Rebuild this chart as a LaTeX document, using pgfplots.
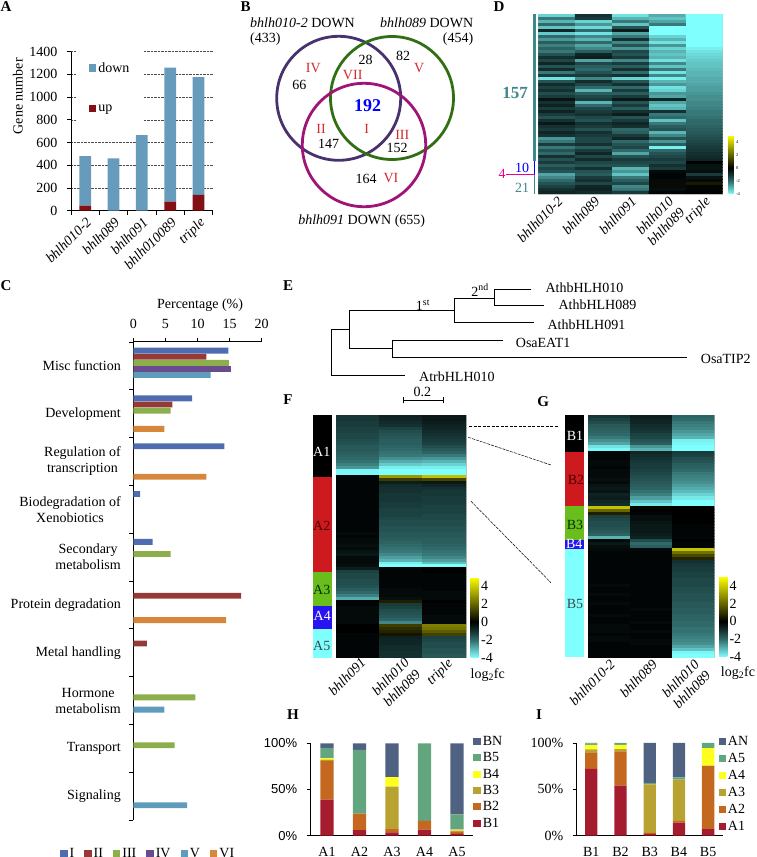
\documentclass[border=0pt]{standalone}
\usepackage{fontspec}
\usepackage{pgfplots}
\pgfplotsset{compat=1.18}
\setmainfont{Liberation Serif}
\newfontfamily\arialf{Liberation Sans}
\newcommand\fs{\fontsize{14}{16}\selectfont}
\definecolor{cI}{RGB}{79,108,176}
\definecolor{cII}{RGB}{150,58,56}
\definecolor{cIII}{RGB}{140,174,76}
\definecolor{cIV}{RGB}{106,76,142}
\definecolor{cV}{RGB}{95,156,187}
\definecolor{cVI}{RGB}{215,135,60}
\definecolor{down}{RGB}{102,155,187}
\definecolor{up}{RGB}{131,16,20}
\definecolor{h1}{RGB}{165,28,46}
\definecolor{h2}{RGB}{196,104,32}
\definecolor{h3}{RGB}{184,162,50}
\definecolor{h4}{RGB}{255,255,30}
\definecolor{h5}{RGB}{98,165,127}
\definecolor{h6}{RGB}{80,98,130}
\definecolor{vpur}{RGB}{72,50,110}
\definecolor{vgrn}{RGB}{50,110,20}
\definecolor{vmag}{RGB}{160,20,120}
\definecolor{tealt}{RGB}{62,135,138}
\definecolor{vred}{RGB}{210,40,50}
\pgfplotsset{
  colormap={hm}{rgb255(0cm)=(128,255,255); rgb255(1cm)=(90,180,180); rgb255(2cm)=(48,105,105);
    rgb255(3cm)=(20,48,48); rgb255(4cm)=(0,0,0); rgb255(9cm)=(255,255,0)},
  panel/.style={scale only axis, anchor=south west,
    /pgf/number format/assume math mode=true,
    /pgf/number format/1000 sep={},
    tick label style={font=\fs}, label style={font=\fs},
    axis line style={-, line width=1pt}, tick style={black, line width=.8pt},
    major tick length=4pt, minor tick length=4pt, tick align=outside,
    scaled ticks=false},
  sq/.style={legend image code/.code={\fill[##1] (0pt,-3.6pt) rectangle (7.4pt,3.6pt);}},
  heat/.style={panel, enlargelimits=false, colormap name=hm,
    point meta min=-4, point meta max=5,
    axis line style={draw=black!25, line width=.5pt},
    ymajorticks=false, xtick=data, major tick length=0pt,
    xticklabel style={rotate=45, anchor=north east, align=center, font=\fs\itshape, inner sep=1pt}},
  cbar/.style={colorbar, colorbar style={at={(#1,0)}, anchor=south west,
    width=8.3pt, height=80.4pt, scale only axis, ytick={-4,-2,0,2,4},
    /pgf/number format/assume math mode=true,
    axis line style={draw=none}, major tick length=0pt,
    yticklabel style={font=\fs, inner sep=1pt, xshift=1pt}}},
}
\begin{document}
\begin{tikzpicture}[x=1pt,y=1pt]
\path[use as bounding box] (0pt,0pt) rectangle (756pt,857pt);

% A
\begin{axis}[panel, at={(71pt,646.3pt)}, width=141.7pt, height=159pt,
  axis x line*=bottom, axis y line*=left, ybar stacked, bar width=11.7pt,
  xmin=-0.5, xmax=4.5, ymin=0, ymax=1400, ytick={0,200,...,1400},
  yticklabel style={xshift=-6pt},
  xtick={0,1,2,3,4}, minor xtick={-0.5,0.5,1.5,2.5,3.5,4.5},
  major x tick style={draw=none}, minor x tick style={black},
  xticklabels={bhlh010-2,bhlh089,bhlh091,bhlh010089,triple},
  xticklabel style={rotate=45, anchor=north east, font=\fs\itshape, inner sep=1pt},
  ymajorgrids, grid style={black!70, densely dotted, line width=.5pt},
  ylabel={Gene number}, ylabel style={at={(axis description cs:-0.375,0.72)}, anchor=center},
  sq, reverse legend,
  legend style={at={(0.042,1.01)}, anchor=north west, draw=none, fill=white, font=\fs,
    row sep=27pt, inner xsep=11.7pt, inner ysep=10pt},
  legend cell align=left]
\addplot[fill=up, draw=none] coordinates {(0,45)(1,0)(2,0)(3,80)(4,140)};
\addplot[fill=down, draw=none] coordinates {(0,435)(1,460)(2,665)(3,1180)(4,1035)};
\legend{up,down}
\end{axis}

% C
\begin{axis}[panel, at={(133.3pt,37pt)}, width=128.4pt, height=478pt,
  axis x line*=top, axis y line*=left, xbar, bar width=5.9pt,
  xmin=0, xmax=20, xtick={0,5,10,15,20}, ymin=-0.5, ymax=9.5,
  xticklabel style={yshift=6pt},
  ytick={0,...,9}, minor ytick={-0.5,0.5,...,9.5},
  major y tick style={draw=none}, minor y tick style={black},
  yticklabels={Signaling,Transport,{Hormone\\metabolism},Metal handling,Protein degradation,
    {Secondary\\metabolism},{Biodegradation of\\Xenobiotics},{Regulation of\\transcription},Development,Misc function},
  yticklabel style={align=center, anchor=east, xshift=-5pt},
  xlabel={Percentage (\%)}, xlabel style={at={(axis description cs:0.52,1.077)}, anchor=center, font=\fs},
  sq, legend columns=6,
  legend style={at={(-0.571,-0.054)}, anchor=north west, draw=none, fill=none, font=\fs,
    inner sep=0pt, /tikz/every even column/.append style={column sep=8pt}}]
\addplot[fill=cI, draw=none, bar shift=15.25pt] coordinates {(14.8,9)(9.15,8)(14.2,7)(1.05,6)(3,5)};
\addplot[fill=cII, draw=none, bar shift=9.15pt] coordinates {(11.4,9)(6.1,8)(16.8,4)(2.1,3)};
\addplot[fill=cIII, draw=none, bar shift=3.05pt] coordinates {(14.9,9)(5.8,8)(5.8,5)(9.65,2)(6.45,1)};
\addplot[fill=cIV, draw=none, bar shift=-3.05pt] coordinates {(15.2,9)};
\addplot[fill=cV, draw=none, bar shift=-9.15pt] coordinates {(12.05,9)(4.85,2)(8.4,0)};
\addplot[fill=cVI, draw=none, bar shift=-15.25pt] coordinates {(4.85,8)(11.4,7)(14.45,4)};
\legend{I,II,III,IV,V,VI}
\end{axis}

% H
\begin{axis}[panel, at={(310.7pt,21.3pt)}, width=162.5pt, height=92.4pt,
  axis x line*=bottom, axis y line*=left, ybar stacked, bar width=13.3pt,
  xmin=-0.5, xmax=4.5, ymin=0, ymax=100, ytick={0,50,100},
  yticklabels={0\%,50\%,100\%}, yticklabel style={font=\fontsize{13}{14}\selectfont\arialf, xshift=-6pt},
  xtick={0,1,2,3,4}, xticklabels={A1,A2,A3,A4,A5}, major x tick style={draw=none},
  xticklabel style={yshift=-4pt},
  sq, reverse legend, legend cell align=left,
  legend style={at={(1.0,1.10)}, anchor=north west, draw=none, fill=none, font=\fs,
    inner sep=0pt, row sep=1.6pt}]
\addplot[fill=h1, draw=none] coordinates {(0,39)(1,6)(2,3.5)(3,6.5)(4,2)};
\addplot[fill=h2, draw=none] coordinates {(0,42)(1,18)(2,3.5)(3,9.5)(4,2.7)};
\addplot[fill=h3, draw=none] coordinates {(0,1.3)(1,0)(2,46)(3,0)(4,0.8)};
\addplot[fill=h4, draw=none] coordinates {(0,1.7)(1,0)(2,10.5)(3,0)(4,1)};
\addplot[fill=h5, draw=none] coordinates {(0,11)(1,69)(2,0)(3,84)(4,16.5)};
\addplot[fill=h6, draw=none] coordinates {(0,5)(1,7)(2,36.5)(3,0)(4,77)};
\legend{B1,B2,B3,B4,B5,BN}
\end{axis}

% I
\begin{axis}[panel, at={(576.7pt,21.3pt)}, width=146pt, height=92.7pt,
  axis x line*=bottom, axis y line*=left, ybar stacked, bar width=12.3pt,
  xmin=-0.5, xmax=4.5, ymin=0, ymax=100, ytick={0,50,100},
  yticklabels={0\%,50\%,100\%}, yticklabel style={xshift=-6pt},
  xtick={0,1,2,3,4}, xticklabels={B1,B2,B3,B4,B5}, major x tick style={draw=none},
  xticklabel style={yshift=-4pt},
  sq, reverse legend, legend cell align=left,
  legend style={at={(0.97,1.10)}, anchor=north west, draw=none, fill=none, font=\fs,
    inner sep=0pt, row sep=2.3pt}]
\addplot[fill=h1, draw=none] coordinates {(0,72)(1,54)(2,2)(3,14)(4,7)};
\addplot[fill=h2, draw=none] coordinates {(0,17)(1,37)(2,1)(3,2)(4,68)};
\addplot[fill=h3, draw=none] coordinates {(0,4)(1,2.5)(2,52.5)(3,44.5)(4,0.5)};
\addplot[fill=h4, draw=none] coordinates {(0,5)(1,4.5)(2,0)(3,0)(4,19)};
\addplot[fill=h5, draw=none] coordinates {(0,1.5)(1,2)(2,1.5)(3,2.5)(4,5.5)};
\addplot[fill=h6, draw=none] coordinates {(0,0.5)(1,0)(2,43)(3,37)(4,0)};
\legend{A1,A2,A3,A4,A5,AN}
\end{axis}

% D heat map, one value per cell, row by row
\begin{axis}[heat, at={(538.3pt,663pt)}, width=184.4pt, height=180pt,
  xmin=-0.5, xmax=4.5, ymin=-0.5, ymax=59.5, y dir=reverse,
  xticklabels={bhlh010-2,bhlh089,bhlh091,{bhlh010\\bhlh089},triple},
  cbar=1.0324, colorbar style={width=5.3pt, height=59pt,
    yticklabel style={font=\fontsize{4.5}{5}\selectfont, xshift=0pt}}]
\addplot[matrix plot*, mesh/cols=5, point meta=explicit] table[row sep=\\, header=false,
  x expr={mod(\coordindex,5)}, y expr={floor((\coordindex+0.5)/5)}, meta index=0]{
-3.4\\-1.0\\-3.6\\-2.9\\-4\\
-2.2\\-1.2\\-3.0\\-3.2\\-4\\
-3.0\\-3.4\\-2.2\\-2.8\\-4\\
-2.0\\-2.6\\-3.2\\-2.2\\-4\\
-3.2\\-3.5\\-1.6\\-4\\-4\\
-0.8\\-2.0\\-0.6\\-4\\-4\\
-3.3\\-3.6\\-2.8\\-4\\-4\\
-2.0\\-2.4\\-2.2\\-3.4\\-4\\
-2.6\\-3.0\\-1.0\\-3.0\\-4\\
-1.8\\-2.0\\-2.4\\-3.6\\-4\\
-2.3\\-2.8\\-1.6\\-2.6\\-4\\
-1.9\\-2.4\\-2.6\\-3.4\\-3.8\\
-2.2\\-1.8\\-1.4\\-3.0\\-3.6\\
-1.6\\-0.8\\-1.6\\-3.2\\-3.5\\
-1.0\\-0.6\\-1.2\\-3.0\\-3.4\\
-1.4\\-2.8\\-2.4\\-3.6\\-3.3\\
-0.8\\-1.4\\-1.2\\-2.4\\-3.2\\
-1.6\\-1.8\\-1.8\\-3.2\\-3.2\\
-0.9\\-2.0\\-1.0\\-2.2\\-3.1\\
-2.2\\-1.6\\-2.0\\-3.6\\-3.0\\
-1.2\\-1.2\\-1.0\\-2.4\\-3.0\\
-3.6\\-2.4\\-3.4\\-3.8\\-2.9\\
-1.6\\-0.9\\-1.6\\-3.0\\-2.9\\
-0.9\\-1.4\\-1.0\\-2.6\\-2.8\\
-1.3\\-2.0\\-2.0\\-3.6\\-2.7\\
-1.0\\-3.0\\-1.2\\-3.4\\-2.7\\
-1.5\\-1.8\\-1.8\\-2.6\\-2.6\\
-1.2\\-1.4\\-1.2\\-2.8\\-2.5\\
-0.4\\-1.2\\-0.5\\-0.8\\-2.5\\
-1.0\\-3.0\\-1.6\\-2.8\\-2.4\\
-0.7\\-2.0\\-1.2\\-3.2\\-2.4\\
-1.2\\-1.4\\-1.8\\-3.0\\-2.3\\
-0.7\\-1.2\\-1.0\\-1.0\\-2.2\\
-1.2\\-1.0\\-0.6\\-2.2\\-2.2\\
-1.6\\-1.4\\-1.6\\-2.0\\-2.1\\
-1.0\\-1.6\\-1.2\\-3.2\\-2.0\\
-0.5\\-1.0\\-0.8\\-2.2\\-2.0\\
-1.0\\-1.2\\-1.0\\-1.8\\-1.9\\
-1.2\\-1.6\\-2.0\\-1.6\\-1.8\\
-0.8\\-1.0\\-1.8\\-3.0\\-1.7\\
-1.0\\-1.2\\-1.2\\-2.4\\-1.6\\
-2.6\\-1.4\\-0.8\\-1.6\\-1.5\\
-2.2\\-1.4\\-2.0\\-2.6\\-1.4\\
-1.2\\-1.0\\-1.6\\-1.8\\-1.3\\
-2.2\\-1.8\\-1.4\\-3.8\\-1.2\\
-1.6\\-1.2\\-2.0\\-2.0\\-1.1\\
-2.0\\-0.8\\-2.8\\-1.6\\-1.0\\
-1.0\\-1.4\\-1.6\\-1.4\\-0.9\\
-1.6\\-0.9\\-1.2\\-1.2\\-0.8\\
-1.2\\-1.4\\-1.4\\-1.4\\0\\
-1.8\\-1.6\\-1.6\\-1.0\\-0.4\\
-1.4\\-1.0\\-3.0\\-1.2\\-0.4\\
-1.6\\-1.6\\-2.6\\-0.2\\-0.3\\
-2.8\\-1.8\\-3.2\\-0.1\\-1.2\\
-2.4\\-1.2\\-2.2\\-0.1\\-0.4\\
-2.0\\-1.0\\-1.8\\-0.2\\-0.2\\
-1.6\\-1.4\\-1.4\\0.2\\0.5\\
-1.3\\-0.8\\-2.4\\-0.2\\-0.1\\
-1.0\\-0.7\\-2.2\\-0.3\\-0.1\\
-0.8\\-0.9\\-1.2\\-0.1\\0\\
};
\end{axis}

% F heat map
\begin{axis}[heat, at={(336pt,199.5pt)}, width=130pt, height=242.5pt,
  xmin=-0.5, xmax=2.5, ymin=-0.5, ymax=80.5, y dir=reverse,
  xticklabels={bhlh091,{bhlh010\\bhlh089},triple}, cbar=1.036,
  xticklabel style={xshift=3pt}]
\addplot[matrix plot*, mesh/cols=3, point meta=explicit] table[row sep=\\, header=false,
  x expr={mod(\coordindex,3)}, y expr={floor((\coordindex+0.5)/3)}, meta index=0]{
-1.1\\-0.7\\-0.5\\
-1.1\\-0.8\\-0.5\\
-1.2\\-0.9\\-0.6\\
-1.2\\-1.0\\-0.7\\
-1.3\\-1.3\\-0.8\\
-1.3\\-1.5\\-0.9\\
-1.4\\-1.6\\-1.0\\
-1.4\\-1.7\\-1.1\\
-1.5\\-1.8\\-1.2\\
-1.6\\-1.8\\-1.3\\
-1.7\\-1.9\\-1.5\\
-1.7\\-2.0\\-1.7\\
-1.8\\-2.1\\-1.9\\
-1.9\\-2.2\\-2.2\\
-2.0\\-2.5\\-2.6\\
-2.1\\-2.9\\-3.0\\
-2.3\\-3.3\\-3.4\\
-2.6\\-3.8\\-3.8\\
-3.9\\-4\\-4\\
-3.9\\-4\\-4\\
-0.1\\3.0\\3.8\\
-0.1\\1.2\\1.4\\
-0.1\\-0.6\\-0.5\\
-0.1\\-0.9\\-0.8\\
-0.1\\-1.0\\-1.0\\
-0.1\\-1.0\\-1.1\\
-0.1\\-1.1\\-1.1\\
-0.1\\-1.1\\-1.2\\
-0.1\\-1.1\\-1.2\\
-0.1\\-1.2\\-1.2\\
-0.1\\-1.2\\-1.3\\
-0.1\\-1.3\\-1.3\\
-0.1\\-1.3\\-1.3\\
-0.1\\-1.3\\-1.4\\
-0.1\\-1.4\\-1.4\\
-0.1\\-1.5\\-1.5\\
-0.1\\-1.5\\-1.5\\
-0.1\\-1.6\\-1.6\\
-0.1\\-1.6\\-1.6\\
-0.2\\-1.7\\-1.7\\
-0.1\\-1.7\\-1.7\\
-0.2\\-1.8\\-1.8\\
-0.2\\-1.9\\-1.8\\
-0.3\\-2.0\\-1.9\\
-0.2\\-2.1\\-2.0\\
-0.4\\-2.2\\-2.1\\
-0.5\\-2.4\\-2.2\\
-0.2\\-2.7\\-2.4\\
-0.2\\-3.0\\-2.7\\
-0.2\\-3.8\\-3.2\\
-0.3\\-4\\-4\\
-0.6\\-0.1\\0\\
-1.3\\-0.1\\0\\
-1.4\\-0.1\\-0.1\\
-1.4\\-0.1\\-0.1\\
-1.5\\-0.1\\-0.1\\
-1.5\\-0.1\\-0.1\\
-1.6\\-0.1\\-0.1\\
-1.8\\-0.2\\-0.1\\
-2.0\\-0.2\\-0.2\\
-2.3\\-0.2\\-0.2\\
-2.9\\-0.3\\-0.2\\
-0.1\\0.6\\0\\
-0.1\\-1.2\\-0.1\\
-0.2\\-1.3\\-0.1\\
-0.2\\-1.5\\-0.1\\
-0.2\\-1.6\\-0.1\\
-0.2\\-1.7\\-0.2\\
-0.2\\-1.9\\-0.2\\
-0.2\\-2.4\\-0.2\\
0\\1.2\\2.5\\
0\\0.9\\2.3\\
0\\0.7\\1.8\\
-0.1\\0.4\\1.3\\
-0.1\\-0.7\\-1.3\\
-0.1\\-0.8\\-1.4\\
-0.1\\-0.8\\-1.5\\
-0.1\\-0.9\\-1.5\\
-0.1\\-0.9\\-1.6\\
-0.1\\-1.0\\-1.6\\
-0.1\\-1.0\\-1.7\\
};
\end{axis}

% G heat map
\begin{axis}[heat, at={(588pt,200pt)}, width=126.3pt, height=242pt,
  xmin=-0.5, xmax=2.5, ymin=-0.5, ymax=79.5, y dir=reverse,
  xticklabels={bhlh010-2,bhlh089,{bhlh010\\bhlh089}}, cbar=1.0373]
\addplot[matrix plot*, mesh/cols=3, point meta=explicit] table[row sep=\\, header=false,
  x expr={mod(\coordindex,3)}, y expr={floor((\coordindex+0.5)/3)}, meta index=0]{
-1.1\\-0.6\\-1.9\\
-1.3\\-0.7\\-2.0\\
-1.5\\-0.8\\-2.2\\
-1.7\\-0.9\\-2.3\\
-1.8\\-1.0\\-2.4\\
-1.9\\-1.1\\-2.6\\
-2.0\\-1.3\\-2.8\\
-2.2\\-1.4\\-3.0\\
-2.5\\-1.6\\-3.8\\
-2.8\\-1.8\\-3.9\\
-3.6\\-2.6\\-4\\
-3.9\\-3.0\\-4\\
-0.1\\-0.8\\-1.2\\
-0.1\\-0.9\\-1.3\\
-0.1\\-1.0\\-1.5\\
-0.2\\-1.1\\-1.6\\
-0.2\\-1.2\\-1.8\\
-0.1\\-1.2\\-1.9\\
-0.2\\-1.3\\-2.0\\
-0.2\\-1.4\\-2.2\\
-0.2\\-1.5\\-2.3\\
-0.3\\-1.6\\-2.4\\
-0.2\\-1.7\\-2.5\\
-0.4\\-1.8\\-2.7\\
-0.5\\-1.9\\-2.9\\
-0.4\\-2.1\\-3.1\\
-0.7\\-2.3\\-3.4\\
-0.6\\-2.7\\-3.7\\
-0.8\\-3.2\\-4\\
-0.9\\-3.7\\-4\\
3.8\\0.1\\0\\
2.0\\0\\0\\
0.6\\-0.1\\0\\
-1.3\\-0.3\\0\\
-1.4\\-0.3\\0\\
-1.5\\-0.4\\0\\
-1.5\\-0.5\\-0.1\\
-1.6\\-0.5\\-0.1\\
-1.7\\-0.5\\-0.1\\
-1.9\\-0.6\\-0.1\\
-3.0\\-0.7\\-0.1\\
-0.2\\-1.5\\0\\
-0.5\\-2.0\\-0.1\\
-0.3\\-1.8\\-0.1\\
-0.2\\-0.2\\3.8\\
-0.1\\-0.1\\2.2\\
-0.1\\-0.1\\1.4\\
-0.1\\-0.1\\0.7\\
-0.1\\-0.1\\-1.0\\
-0.1\\-0.1\\-1.1\\
-0.1\\-0.1\\-1.2\\
-0.1\\-0.1\\-1.2\\
-0.1\\-0.1\\-1.3\\
-0.1\\-0.1\\-1.3\\
-0.1\\-0.1\\-1.4\\
-0.1\\-0.1\\-1.4\\
-0.2\\-0.1\\-1.4\\
-0.1\\-0.1\\-1.5\\
-0.1\\-0.1\\-1.5\\
-0.2\\-0.1\\-1.6\\
-0.1\\-0.1\\-1.6\\
-0.1\\-0.1\\-1.6\\
-0.2\\-0.1\\-1.7\\
-0.1\\-0.1\\-1.7\\
-0.1\\-0.2\\-1.8\\
-0.1\\-0.1\\-1.8\\
-0.2\\-0.1\\-1.9\\
-0.1\\-0.1\\-1.9\\
-0.1\\-0.2\\-2.0\\
-0.2\\-0.1\\-2.0\\
-0.2\\-0.1\\-2.1\\
-0.2\\-0.2\\-2.1\\
-0.1\\-0.1\\-2.2\\
-0.2\\-0.1\\-2.3\\
-0.2\\-0.2\\-2.4\\
-0.1\\-0.2\\-2.5\\
-0.1\\-0.1\\-2.8\\
-0.1\\-0.1\\-3.2\\
-0.1\\-0.1\\-3.9\\
-0.1\\-0.1\\-4\\
};
\end{axis}

% everything else, in reference pixel coordinates
\begin{axis}[scale only axis, anchor=south west, at={(0pt,0pt)}, width=756pt, height=857pt,
  xmin=0, xmax=756, ymin=0, ymax=857, y dir=reverse, hide axis, clip=false]
% venn
\addplot[only marks, mark=o, mark size=62pt, mark options={line width=2.8pt, draw=vpur}] coordinates {(338.7,98.3)};
\addplot[only marks, mark=o, mark size=61.5pt, mark options={line width=2.8pt, draw=vgrn}] coordinates {(392,98)};
\addplot[only marks, mark=o, mark size=61.7pt, mark options={line width=2.8pt, draw=vmag}] coordinates {(364,145)};
% tree
\addplot[black, line width=.7pt] coordinates {(349.3,329.3)(331.3,329.3)(331.3,375)(405,375)};
\addplot[black, line width=.7pt] coordinates {(454.3,310.7)(349.3,310.7)(349.3,348.7)(392,348.7)};
\addplot[black, line width=.7pt] coordinates {(494,298)(454.3,298)(454.3,322.7)(534.3,322.7)};
\addplot[black, line width=.7pt] coordinates {(531.3,289)(494,289)(494,305.3)(544,305.3)};
\addplot[black, line width=.7pt] coordinates {(502.7,340.7)(392,340.7)(392,357.3)(687.3,357.3)};
\addplot[black, line width=.8pt] coordinates {(403.3,397)(403.3,403)(403.3,400)(443.3,400)(443.3,397)(443.3,403)};
% links between F and G
\addplot[black, line width=.5pt, dash pattern=on 3pt off 1.5pt] coordinates {(469.3,426)(559.3,426)};
\addplot[black, line width=.5pt, dash pattern=on 3pt off 1pt] coordinates {(468.3,437.3)(551,465)};
\addplot[black, line width=.5pt, dash pattern=on 3pt off 1pt] coordinates {(471,501.3)(551,582.7)};
% side bars
\addplot[fill=black, draw=none] coordinates {(312.7,415)(332.3,415)(332.3,476.7)(312.7,476.7)} --cycle;
\addplot[fill={rgb,255:red,204;green,26;blue,30}, draw=none] coordinates {(312.7,476.7)(332.3,476.7)(332.3,571.7)(312.7,571.7)} --cycle;
\addplot[fill={rgb,255:red,105;green,190;blue,30}, draw=none] coordinates {(312.7,571.7)(332.3,571.7)(332.3,605.7)(312.7,605.7)} --cycle;
\addplot[fill={rgb,255:red,40;green,20;blue,240}, draw=none] coordinates {(312.7,605.7)(332.3,605.7)(332.3,628.7)(312.7,628.7)} --cycle;
\addplot[fill={rgb,255:red,128;green,255;blue,255}, draw=none] coordinates {(312.7,628.7)(332.3,628.7)(332.3,657.7)(312.7,657.7)} --cycle;
\addplot[fill=black, draw=none] coordinates {(565.3,415)(584,415)(584,452.3)(565.3,452.3)} --cycle;
\addplot[fill={rgb,255:red,204;green,26;blue,30}, draw=none] coordinates {(565.3,452.3)(584,452.3)(584,506)(565.3,506)} --cycle;
\addplot[fill={rgb,255:red,105;green,190;blue,30}, draw=none] coordinates {(565.3,506)(584,506)(584,540)(565.3,540)} --cycle;
\addplot[fill={rgb,255:red,40;green,20;blue,240}, draw=none] coordinates {(565.3,540)(584,540)(584,549.3)(565.3,549.3)} --cycle;
\addplot[fill={rgb,255:red,128;green,255;blue,255}, draw=none] coordinates {(565.3,549.3)(584,549.3)(584,657.3)(565.3,657.3)} --cycle;
% D side lines
\addplot[tealt, line width=2.4pt] coordinates {(534.3,14)(534.3,160.7)};
\addplot[blue, line width=1pt] coordinates {(534.3,160.7)(534.3,174)};
\addplot[tealt, line width=1pt] coordinates {(534.3,174)(534.3,194)};
\addplot[magenta, line width=1pt] coordinates {(506,174)(535,174)};
% panel letters
\foreach \l/\x/\y in {A/6/7,B/245.7/7,D/499/7,C/6/286,E/288/286,F/288/400,G/543.3/401.7,H/293/715,I/539/715}
  {\edef\tmp{\noexpand\node[font=\noexpand\fontsize{15}{16}\noexpand\selectfont\noexpand\bfseries] at (axis cs:\x,\y) {\l};}\tmp}
% venn text
\node[anchor=west, font=\fs] at (246.7,22.7) {\textit{bhlh010-2} DOWN};
\node[anchor=west, font=\fs] at (246.7,39) {(433)};
\node[anchor=east, font=\fs] at (476.7,22.7) {\textit{bhlh089} DOWN};
\node[anchor=east, font=\fs] at (476.7,39) {(454)};
\node[font=\fs] at (361.7,220.7) {\textit{bhlh091} DOWN (655)};
\foreach \t/\x/\y in {66/299.3/84.7,28/365.7/60,82/403/55.7,147/328.7/144,152/397/148,164/366/179}
  {\edef\tmp{\noexpand\node[font=\noexpand\fs] at (axis cs:\x,\y) {\t};}\tmp}
\foreach \t/\x/\y in {IV/313.3/68.3,VII/352.7/74.7,V/419.3/67.7,II/321/129.3,I/366.7/129,III/402.3/135,VI/391/178}
  {\edef\tmp{\noexpand\node[text=vred, font=\noexpand\fs] at (axis cs:\x,\y) {\t};}\tmp}
\node[text=blue, font=\fontsize{18}{20}\selectfont\bfseries] at (367.7,106) {192};
% tree text
\foreach \t/\x/\y in {AthbHLH010/545.3/287.3,AthbHLH089/558.3/305,AthbHLH091/547.3/325,OsaEAT1/515.7/343,OsaTIP2/700.7/359.3,AtrbHLH010/419/376.7}
  {\edef\tmp{\noexpand\node[anchor=west, inner xsep=0pt, font=\noexpand\fs] at (axis cs:\x,\y) {\t};}\tmp}
\node[font=\fs] at (423,305) {1\textsuperscript{st}};
\node[font=\fs] at (480,290) {2\textsuperscript{nd}};
\node[font=\fs] at (422.3,391.7) {0.2};
% side labels
\node[text=white, font=\fs] at (321.7,452.3) {A1};
\node[text=black!70!red, font=\fs] at (321.7,526) {A2};
\node[text=black!80!green, font=\fs] at (321.7,590) {A3};
\node[text=white, font=\fs] at (322.3,616) {A4};
\node[text=black!80!cyan, font=\fs] at (321.7,646) {A5};
\node[text=white, font=\fs] at (575,435.7) {B1};
\node[text=black!70!red, font=\fs] at (576,480) {B2};
\node[text=black!80!green, font=\fs] at (575,525) {B3};
\node[text=white, font=\fs] at (574.3,544.3) {B4};
\node[text=black!80!cyan, font=\fs] at (575,604) {B5};
\node[font=\fs] at (487.7,675) {log\textsubscript{2}fc};
\node[font=\fs] at (738,673) {log\textsubscript{2}fc};
% D labels
\node[text=tealt, font=\fontsize{17}{18}\selectfont\bfseries] at (515,92.7) {157};
\node[text=blue, font=\fs] at (522,167.5) {10};
\node[text=tealt, font=\fs] at (522,187.7) {21};
\node[text=magenta, font=\fs] at (502,174) {4};
\end{axis}
\end{tikzpicture}
\end{document}
